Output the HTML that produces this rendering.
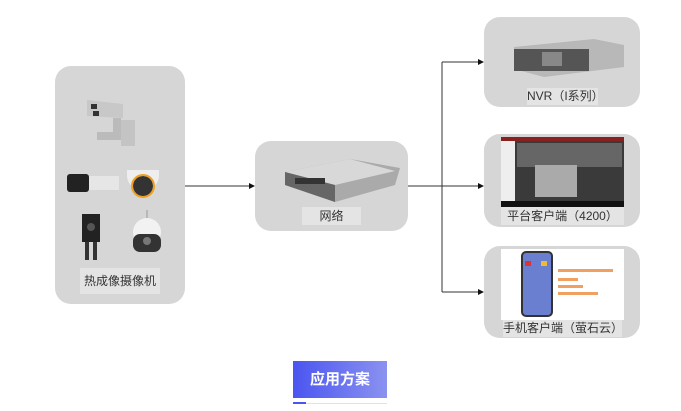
<!DOCTYPE html>
<html><head><meta charset="utf-8"><style>
body{margin:0;width:681px;height:411px;background:#fff;position:relative;overflow:hidden;font-family:"Liberation Sans","Noto Sans CJK SC",sans-serif}
.box{position:absolute;background:#d6d6d6;border-radius:16px}
.lbl{position:absolute;background:#e4e4e4;color:#333;font-size:12px;text-align:center}
</style></head><body>
<svg width="681" height="411" style="position:absolute;left:0;top:0">
<defs><marker id="a" markerWidth="6" markerHeight="6" refX="5" refY="3" orient="auto"><path d="M0,0L6,3L0,6z" fill="#111"/></marker></defs>
<g stroke="#333" stroke-width="1" fill="none">
<line x1="185" y1="186" x2="254" y2="186" marker-end="url(#a)"/>
<line x1="408" y1="186" x2="442" y2="186"/>
<line x1="442" y1="62" x2="442" y2="292"/>
<line x1="442" y1="62" x2="483" y2="62" marker-end="url(#a)"/>
<line x1="442" y1="186" x2="483" y2="186" marker-end="url(#a)"/>
<line x1="442" y1="292" x2="483" y2="292" marker-end="url(#a)"/>
</g></svg>

<div class="box" style="left:55px;top:66px;width:130px;height:238px"></div>
<svg width="130" height="200" style="position:absolute;left:55px;top:66px">
<path d="M32,34 L68,38 L68,52 L32,50z" fill="#c8c8c8"/><rect x="36" y="38" width="6" height="5" fill="#333"/><rect x="38" y="45" width="6" height="5" fill="#333"/>
<rect x="58" y="52" width="8" height="20" fill="#bbb"/><rect x="66" y="54" width="14" height="26" fill="#c4c4c4"/><rect x="42" y="66" width="24" height="8" fill="#bbb"/>
<rect x="12" y="108" width="22" height="18" rx="3" fill="#222"/><rect x="34" y="110" width="30" height="14" fill="#e6e6e6"/>
<path d="M72,104 h32 v6 a16,14 0 0 1 -32,0z" fill="#eee"/><circle cx="88" cy="120" r="10" fill="#333"/><circle cx="88" cy="120" r="11" fill="none" stroke="#f0a020" stroke-width="2"/>
<rect x="27" y="148" width="18" height="28" fill="#222"/><circle cx="36" cy="161" r="4" fill="#555"/><rect x="30" y="176" width="4" height="18" fill="#333"/><rect x="38" y="176" width="4" height="18" fill="#333"/>
<line x1="92" y1="144" x2="92" y2="152" stroke="#999"/>
<circle cx="92" cy="166" r="14" fill="#f2f2f2"/><rect x="78" y="168" width="28" height="18" rx="7" fill="#333"/><circle cx="92" cy="175" r="4" fill="#777"/>
</svg>
<div class="lbl" style="left:80px;top:268px;width:80px;height:26px;line-height:26px">热成像摄像机</div>

<div class="box" style="left:255px;top:141px;width:153px;height:90px"></div>
<svg width="153" height="70" style="position:absolute;left:255px;top:141px">
<path d="M30,31 L95,18 L145,27 L140,44 L80,61 L30,44z" fill="#aaa"/>
<path d="M30,31 L80,44 L140,30 L95,18z" fill="#d8d8d8"/>
<path d="M30,31 L80,44 L80,61 L30,44z" fill="#666"/>
<rect x="40" y="37" width="30" height="6" fill="#333"/>
</svg>
<div class="lbl" style="left:302px;top:207px;width:59px;height:18px;line-height:18px">网络</div>

<div class="box" style="left:484px;top:17px;width:156px;height:90px"></div>
<svg width="156" height="70" style="position:absolute;left:484px;top:17px">
<path d="M30,30 L110,22 L140,28 L140,50 L60,60 L30,52z" fill="#b8b8b8"/>
<rect x="30" y="32" width="75" height="22" fill="#555"/>
<rect x="58" y="35" width="20" height="14" fill="#888"/>
</svg>
<div class="lbl" style="left:527px;top:88px;width:71px;height:17px;line-height:17px">NVR（I系列）</div>

<div class="box" style="left:484px;top:134px;width:156px;height:93px"></div>
<div style="position:absolute;left:501px;top:137px;width:123px;height:70px;background:#3a3a3a">
<div style="position:absolute;left:0;top:0;width:123px;height:4px;background:#8a2020"></div>
<div style="position:absolute;left:0;top:4px;width:14px;height:60px;background:#eee"></div>
<div style="position:absolute;left:16px;top:6px;width:105px;height:24px;background:#666"></div>
<div style="position:absolute;left:34px;top:28px;width:42px;height:32px;background:#aaa"></div>
<div style="position:absolute;left:0;top:64px;width:123px;height:6px;background:#111"></div>
</div>
<div class="lbl" style="left:501px;top:207px;width:123px;height:18px;line-height:18px">平台客户端（4200）</div>

<div class="box" style="left:484px;top:246px;width:156px;height:92px"></div>
<div style="position:absolute;left:501px;top:249px;width:123px;height:71px;background:#fff">
<div style="position:absolute;left:20px;top:2px;width:32px;height:66px;border-radius:5px;background:#6a7fd0;border:2px solid #333;box-sizing:border-box"></div>
<div style="position:absolute;left:24px;top:12px;width:6px;height:5px;background:#d33"></div>
<div style="position:absolute;left:40px;top:12px;width:6px;height:5px;background:#eb3"></div>
<div style="position:absolute;left:57px;top:20px;width:55px;height:3px;background:#f0a060"></div>
<div style="position:absolute;left:57px;top:29px;width:20px;height:3px;background:#f0a060"></div>
<div style="position:absolute;left:57px;top:36px;width:25px;height:3px;background:#f0a060"></div>
<div style="position:absolute;left:57px;top:43px;width:40px;height:3px;background:#f0a060"></div>
</div>
<div class="lbl" style="left:503px;top:320px;width:119px;height:17px;line-height:17px">手机客户端（萤石云）</div>

<div style="position:absolute;left:293px;top:361px;width:94px;height:37px;background:linear-gradient(90deg,#4b55f0,#8a92f0);color:#fff;font-weight:bold;font-size:15px;text-align:center;line-height:37px">应用方案</div>
<div style="position:absolute;left:293px;top:403px;width:94px;height:1px;background:#dde0fb"></div>
<div style="position:absolute;left:293px;top:402px;width:13px;height:2px;background:#4b55f0"></div>
</body></html>
